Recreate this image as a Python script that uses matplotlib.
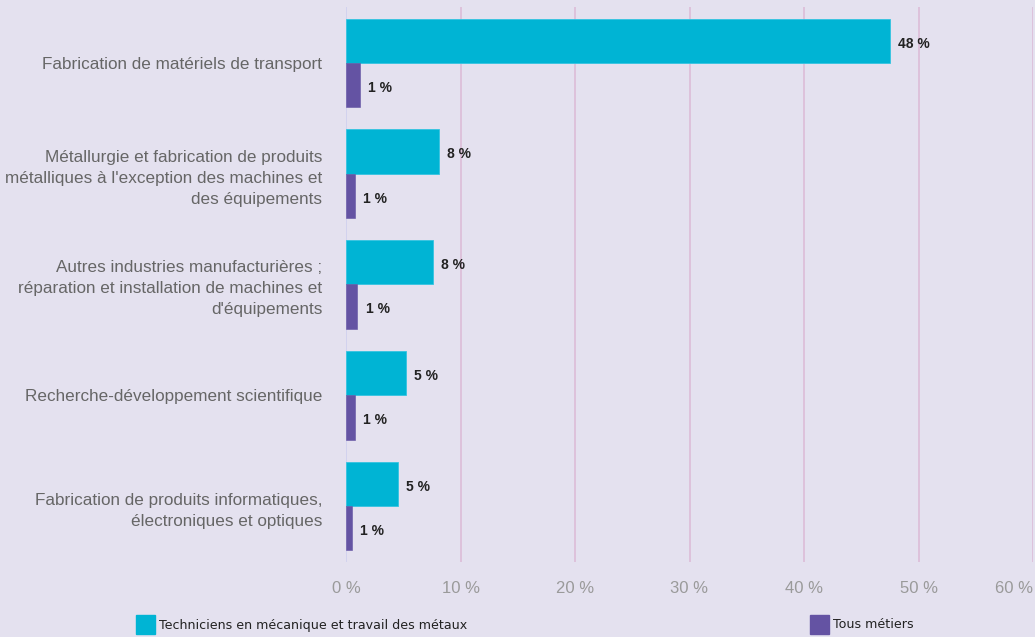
import matplotlib
matplotlib.use("Agg")
import matplotlib.pyplot as plt
from matplotlib.patches import Rectangle
import numpy as np

# ---- data ----
sectors = [
    "Fabrication de matériels de transport",
    "Métallurgie et fabrication de produits\nmétalliques à l'exception des machines et\ndes équipements",
    "Autres industries manufacturières ;\nréparation et installation de machines et\nd'équipements",
    "Recherche-développement scientifique",
    "Fabrication de produits informatiques,\nélectroniques et optiques",
]
techniciens = [47.5, 8.1, 7.6, 5.2, 4.5]
tous_metiers = [1.2, 0.8, 1.0, 0.8, 0.5]
techniciens_lbl = ["48 %", "8 %", "8 %", "5 %", "5 %"]
tous_metiers_lbl = ["1 %", "1 %", "1 %", "1 %", "1 %"]
xticks = [0, 10, 20, 30, 40, 50, 60]
series_names = ["Techniciens en mécanique et travail des métaux", "Tous métiers"]

C_CYAN = "#00b4d4"
C_PURP = "#6453a3"
C_BG = "#e4e1ef"
C_GRID = "#dcbcd8"

fig = plt.figure(figsize=(10.35, 6.37), dpi=100, facecolor=C_BG)
ax = fig.add_axes([346/1035, 1 - 561.5/637, 687/1035, 554/637])
ax.set_facecolor(C_BG)

y = np.arange(len(sectors))
h = 0.4
b1 = ax.barh(y - h/2, techniciens, height=h, color=C_CYAN, edgecolor="#35c4e0", lw=0.6, zorder=3)
b2 = ax.barh(y + h/2, tous_metiers, height=h, color=C_PURP, edgecolor=C_PURP, lw=0.4, zorder=3)

for bars, labs in [(b1, techniciens_lbl), (b2, tous_metiers_lbl)]:
    for b, lab in zip(bars, labs):
        ax.annotate(lab, xy=(b.get_width(), b.get_y() + b.get_height()/2),
                    xytext=(6, -2), textcoords="offset points", ha="left", va="center",
                    fontsize=10, fontweight="bold", color="#222222",
                    family=["Liberation Sans", "DejaVu Sans"], zorder=4)

ax.set_xlim(0, 60)
ax.set_ylim(len(sectors) - 0.5, -0.5)
ax.set_xticks(xticks)
ax.set_xticklabels([f"{t} %" for t in xticks], color="#9a9a9a", fontsize=12,
                   family=["Liberation Sans Narrow", "Liberation Sans"])
ax.get_xticklabels()[-1].set_horizontalalignment("right")
ax.get_xticklabels()[-1].set_x(60.2)
ax.set_yticks(y)
ax.set_yticklabels(sectors, color="#666666", fontsize=12.3, family="Liberation Sans",
                   multialignment="right", linespacing=1.5)
ax.tick_params(axis="both", length=0)
ax.tick_params(axis="x", pad=14)
ax.tick_params(axis="y", pad=17)
for s in ax.spines.values():
    s.set_visible(False)
for t in xticks[1:]:
    ax.axvline(t, color=C_GRID, lw=1.2, zorder=1)
ax.axvline(0, color="#cfd0ee", lw=1.2, zorder=1)

# legend, split left / right like the source
for (x0, col, name) in [(136, C_CYAN, series_names[0]), (810, C_PURP, series_names[1])]:
    fig.add_artist(Rectangle((x0/1035, 1 - 634/637), 19/1035, 19/637,
                             transform=fig.transFigure, color=col))
    fig.text((x0 + 23)/1035, 1 - 625/637, name, ha="left", va="center",
             fontsize=9.1, color="#222222", family="DejaVu Sans")

fig.savefig("out.png", dpi=100, facecolor=C_BG)
